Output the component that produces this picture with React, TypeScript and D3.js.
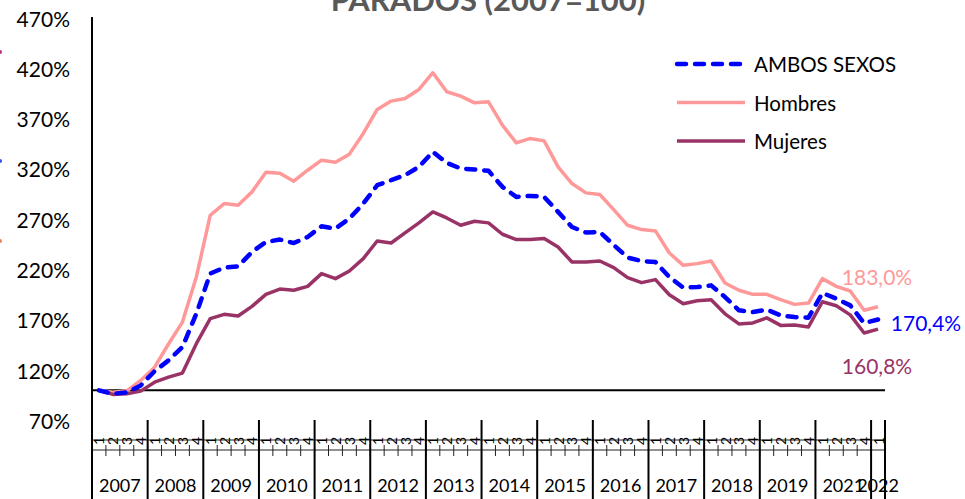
import React from "react";
import * as d3 from "d3";

const W = 965;
const H = 499;

const yearLabels = ["2007","2008","2009","2010","2011","2012","2013","2014","2015","2016","2017","2018","2019","2021","2022"];
const quartersPerYear = [4,4,4,4,4,4,4,4,4,4,4,4,4,4,1];
const yTicks = [70,120,170,220,270,320,370,420,470];

const ambos = [100,96.6,98,104.8,119,129.7,143,176.2,216,221.9,223.2,237.5,247.4,249.8,246.4,252.4,263,260.7,270.7,285.6,303.8,308.8,313.8,322.1,337,326,320.4,319.4,318.1,302.2,292.2,293.2,292.2,277.3,262.3,256.8,257.4,244.5,231.9,228.5,227.5,212.6,202,202.6,204.3,192.7,179.5,177.8,180.1,174.5,172.8,172.2,196.7,191.1,184.4,166.8,170.4];
const hombres = [100,98,99.5,109.8,123,146,167.8,212.6,274,285.6,284,297.2,316.8,315.8,307.8,318.7,328.7,326.7,334.7,355.3,379.1,387.4,390,399,415.6,396.7,392.4,385.7,386.7,363.5,345.9,350.3,347.9,322,305.5,296.2,294.6,279.6,264,259.7,258.4,236.5,224.2,225.9,228.5,206.6,199.4,195.4,195.4,190.1,185.4,186.7,211,203.3,198.7,179.5,183.0];
const mujeres = [100,95.9,96.6,99.2,108.1,113.1,117.1,146.3,171.2,175.5,173.8,183.4,195.4,200.6,199.4,203.3,216,211,218.6,230.9,248.4,246.4,256.4,266.4,277.3,271.3,264,268,266.4,255.1,249.8,249.8,250.8,242.4,227.5,227.5,228.5,222,212,207,210,195,186,189,190,176,166,167,172,164.5,165,163,188,184,175,157,160.8];

const seriesNames = ["AMBOS SEXOS","Hombres","Mujeres"];
const endLabels = ["170,4%","183,0%","160,8%"];

const FONT = "Lato, 'DejaVu Sans', sans-serif";
const BLUE = "#0000FF";
const PINK = "#FF9999";
const PLUM = "#993366";

export default function App() {
  const n = ambos.length;
  const idx = d3.range(n);
  const x = d3.scalePoint<number>().domain(idx).range([92, 885]).padding(0.5);
  const step = x.step();
  const y = d3.scaleLinear().domain([70, 470]).range([420.5, 18]);
  const line = d3.line<number>().x((_, i) => x(i) as number).y((d) => y(d));

  const quarterLabels: { i: number; q: number }[] = [];
  let c = 0;
  quartersPerYear.forEach((nq) => {
    for (let q = 1; q <= nq; q++) quarterLabels.push({ i: c++, q });
  });
  const bounds: number[] = [0];
  let acc = 0;
  quartersPerYear.forEach((nq) => { acc += nq; bounds.push(acc); });
  const bx = (k: number) => 92 + k * step;

  const series = [
    { name: seriesNames[0], data: ambos, color: BLUE, dash: "9 9" },
    { name: seriesNames[1], data: hombres, color: PINK, dash: null },
    { name: seriesNames[2], data: mujeres, color: PLUM, dash: null },
  ];

  return (
    <svg width={W} height={H} style={{ position: "absolute", left: 0, top: 0, background: "#fff" }} fontFamily={FONT}>
      <rect x={0} y={0} width={W} height={H} fill="#fff" />
      <circle cx={0} cy={52} r={2} fill="#C0307A" />
      <circle cx={0} cy={161} r={2} fill="#3050F0" />
      <circle cx={0} cy={241} r={2} fill="#F08060" />

      <text x={488} y={11} textAnchor="middle" fontSize={31} fontWeight={700} fill="#595959">PARADOS (2007=100)</text>

      {yTicks.map((t) => (
        <text key={t} x={70} y={y(t)} textAnchor="end" dominantBaseline="central" fontSize={21} fill="#000">{t}%</text>
      ))}

      <line x1={92} x2={885} y1={y(100)} y2={y(100)} stroke="#000" strokeWidth={2} />

      <line x1={92} x2={885} y1={440} y2={440} stroke="#222" strokeWidth={1} />
      <line x1={92} x2={885} y1={450} y2={450} stroke="#222" strokeWidth={1} />
      {d3.range(n + 1).map((k) => (
        <line key={"t" + k} x1={bx(k)} x2={bx(k)} y1={445} y2={456} stroke="#222" strokeWidth={1} />
      ))}
      {quarterLabels.map((d) => (
        <text key={"q" + d.i} transform={`translate(${x(d.i)},441) rotate(-90)`} textAnchor="middle" dominantBaseline="central" fontSize={14} fill="#000">{d.q}</text>
      ))}
      {bounds.map((k) => (
        <line key={"b" + k} x1={bx(k)} x2={bx(k)} y1={420} y2={H} stroke="#000" strokeWidth={2} />
      ))}
      {yearLabels.map((yl, j) => (
        <text key={yl} x={(bx(bounds[j]) + bx(bounds[j + 1])) / 2} y={492} textAnchor="middle" fontSize={18} fill="#000">{yl}</text>
      ))}

      <line x1={92} x2={92} y1={17} y2={H} stroke="#000" strokeWidth={2} />

      {[1, 2, 0].map((si) => {
        const s = series[si];
        return (
          <path key={s.name} d={line(s.data) as string} fill="none" stroke={s.color} strokeWidth={s.dash ? 4.5 : 3.5}
            strokeDasharray={s.dash || undefined} strokeLinecap={s.dash ? "round" : "butt"} strokeLinejoin="round" />
        );
      })}

      {series.map((s, i) => {
        const ly = 64 + i * 38.5;
        return (
          <g key={"lg" + i}>
            <line x1={677} x2={745} y1={ly} y2={ly} stroke={s.color} strokeWidth={s.dash ? 4.5 : 3.5}
              strokeDasharray={s.dash || undefined} strokeLinecap={s.dash ? "round" : "butt"} />
            <text x={754} y={ly} dominantBaseline="central" fontSize={20.5} fill="#000">{s.name}</text>
          </g>
        );
      })}

      <text x={877} y={276} textAnchor="middle" dominantBaseline="central" fontSize={21} fill={PINK}>{endLabels[1]}</text>
      <text x={926} y={322} textAnchor="middle" dominantBaseline="central" fontSize={21} fill={BLUE}>{endLabels[0]}</text>
      <text x={877} y={365} textAnchor="middle" dominantBaseline="central" fontSize={21} fill={PLUM}>{endLabels[2]}</text>
    </svg>
  );
}
